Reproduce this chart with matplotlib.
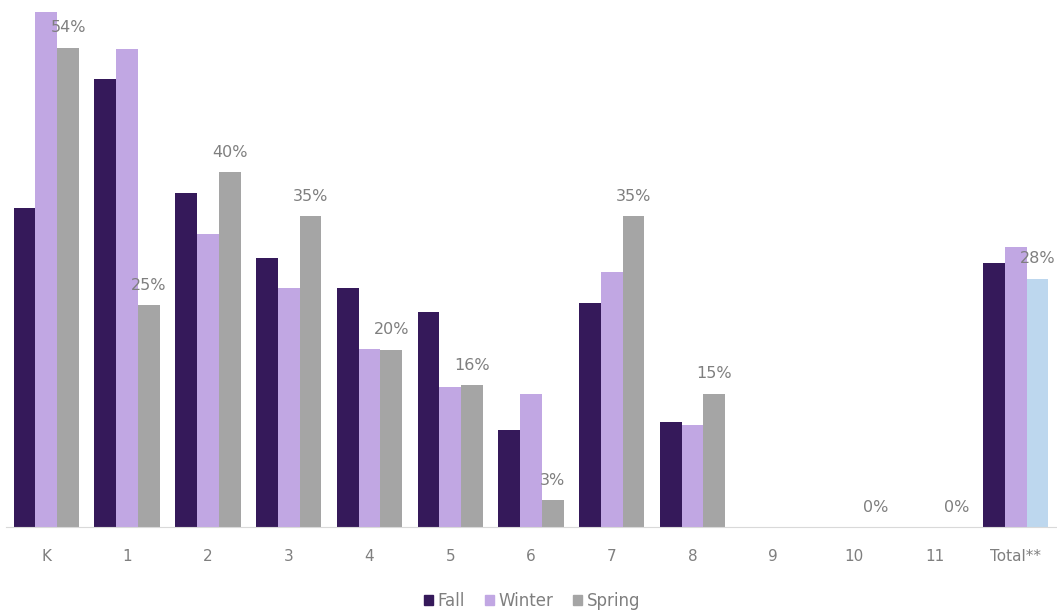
import numpy as np
import matplotlib.pyplot as plt
from matplotlib.patches import Patch

grades = ["K", "1", "2", "3", "4", "5", "6", "7", "8", "9", "10", "11", "Total**"]
fall = [36, 50.5, 37.7, 30.3, 26.9, 24.2, 10.9, 25.3, 11.8, np.nan, np.nan, np.nan, 29.8]
winter = [58, 53.9, 33, 26.9, 20.1, 15.8, 15, 28.7, 11.5, np.nan, np.nan, np.nan, 31.6]
spring = [54, 25, 40, 35, 20, 16, 3, 35, 15, np.nan, 0, 0, 28]

c_fall = "#35195a"
c_winter = "#c1a7e3"
c_spring = "#a5a5a5"
c_total = "#bdd7ee"
c_text = "#7f7f7f"

plt.rcParams['font.family'] = ['DejaVu Sans']

fig = plt.figure(figsize=(10.57, 6.16), dpi=100)
ax = fig.add_axes([6 / 1057, 1 - 527 / 616, 1050 / 1057, 527 / 616])

x = np.arange(len(grades))
w = 0.27
ax.bar(x - w, fall, w, color=c_fall)
ax.bar(x, winter, w, color=c_winter)
sp_colors = [c_spring] * (len(grades) - 1) + [c_total]
ax.bar(x + w, spring, w, color=sp_colors)

for xi, v in zip(x, spring):
    if np.isnan(v):
        continue
    ax.annotate(f"{v:.0f}%", (xi + w, v), xytext=(0, 9), textcoords="offset points",
                ha="center", va="bottom", color=c_text, fontsize=11.5)

ax.set_xlim(-0.5, len(grades) - 0.5)
ax.set_ylim(0, 59.4)
ax.set_xticks(x)
ax.set_xticklabels(grades, color=c_text, fontsize=11)
ax.tick_params(axis="x", length=0, pad=16)
ax.set_yticks([])
for s in ["top", "right", "left"]:
    ax.spines[s].set_visible(False)
ax.spines["bottom"].set_color("#d9d9d9")

handles = [Patch(color=c_fall, label="Fall"),
           Patch(color=c_winter, label="Winter"),
           Patch(color=c_spring, label="Spring")]
fig.legend(handles=handles, loc="center", bbox_to_anchor=(532 / 1057, 1 - 601 / 616),
           ncol=3, frameon=False, handlelength=0.55, handleheight=0.55,
           handletextpad=0.25, columnspacing=1.2, labelcolor=c_text, fontsize=12)

fig.savefig("out.png", dpi=100)
